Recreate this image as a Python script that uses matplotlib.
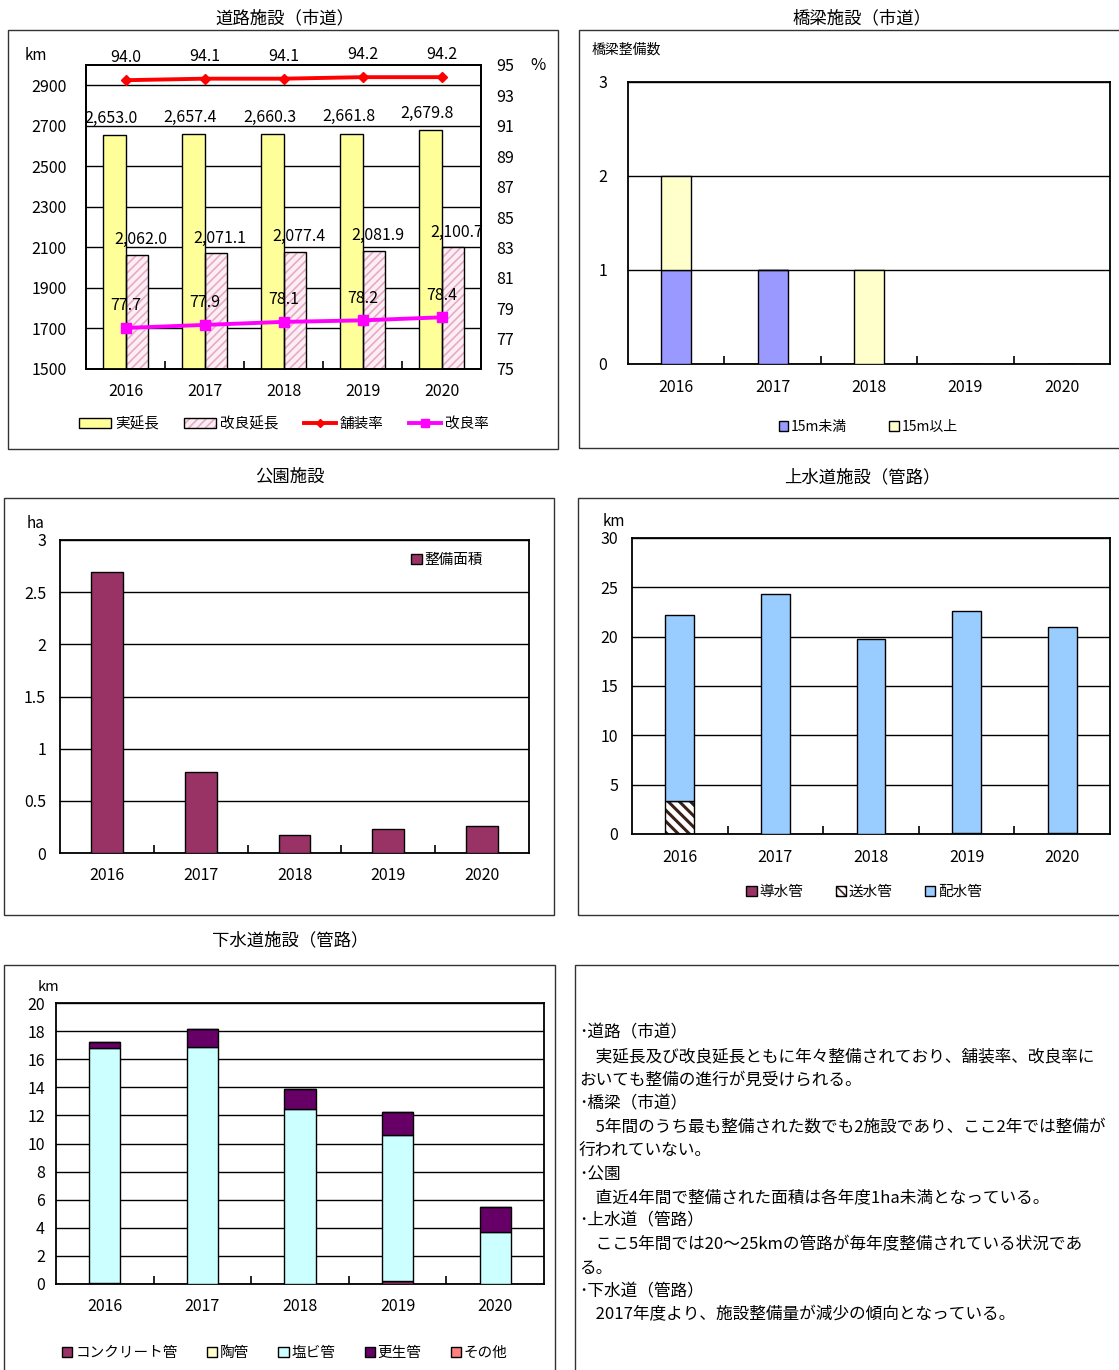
import numpy as np
import matplotlib
matplotlib.use("Agg")
import matplotlib.pyplot as plt
from matplotlib.patches import Rectangle, Patch
from matplotlib.lines import Line2D
from matplotlib.legend_handler import HandlerTuple

plt.rcParams['font.family'] = ['Noto Sans CJK JP', 'DejaVu Sans']
plt.rcParams['hatch.linewidth'] = 1.2

# ---------------- data ----------------
years = ['2016', '2017', '2018', '2019', '2020']

road_length = [2653.0, 2657.4, 2660.3, 2661.8, 2679.8]      # 実延長 km
road_improved = [2062.0, 2071.1, 2077.4, 2081.9, 2100.7]    # 改良延長 km
paved_rate = [94.0, 94.1, 94.1, 94.2, 94.2]                 # 舗装率 %
improved_rate = [77.7, 77.9, 78.1, 78.2, 78.4]              # 改良率 %
road_left_ticks = [1500, 1700, 1900, 2100, 2300, 2500, 2700, 2900]
road_right_ticks = [75, 77, 79, 81, 83, 85, 87, 89, 91, 93, 95]

bridge_under15 = [1, 1, 0, 0, 0]   # 15m未満
bridge_over15 = [1, 0, 1, 0, 0]    # 15m以上

park_area = [2.69, 0.78, 0.17, 0.23, 0.26]   # 整備面積 ha
park_ticks = [0, 0.5, 1, 1.5, 2, 2.5, 3]
park_ticklabels = ['0', '0.5', '1', '1.5', '2', '2.5', '3']

water_intake = [0, 0, 0, 0.1, 0.1]            # 導水管
water_transmission = [3.35, 0, 0, 0, 0]       # 送水管
water_distribution = [18.85, 24.35, 19.78, 22.5, 20.83]  # 配水管

sewer_concrete = [0.08, 0, 0, 0.2, 0]         # コンクリート管
sewer_clay = [0, 0, 0, 0, 0]                  # 陶管
sewer_pvc = [16.74, 16.84, 12.43, 10.42, 3.71]  # 塩ビ管
sewer_rehab = [0.43, 1.33, 1.42, 1.65, 1.76]  # 更生管
sewer_other = [0, 0, 0, 0, 0]                 # その他

summary_lines = [
    '･道路（市道）',
    '\u3000実延長及び改良延長ともに年々整備されており、舗装率、改良率に',
    'おいても整備の進行が見受けられる。',
    '･橋梁（市道）',
    '\u30005年間のうち最も整備された数でも2施設であり、ここ2年では整備が',
    '行われていない。',
    '･公園',
    '\u3000直近4年間で整備された面積は各年度1ha未満となっている。',
    '･上水道（管路）',
    '\u3000ここ5年間では20～25kmの管路が毎年度整備されている状況であ',
    'る。',
    '･下水道（管路）',
    '\u30002017年度より、施設整備量が減少の傾向となっている。',
]

# ---------------- layout helpers ----------------
W, H = 1119, 1370
fig = plt.figure(figsize=(W / 100, H / 100), dpi=100)
fig.patch.set_facecolor('white')


def ax_px(x0, y0, x1, y1):
    return fig.add_axes([x0 / W, 1 - y1 / H, (x1 - x0) / W, (y1 - y0) / H])


def fx(x):
    return x / W


def fy(y):
    return 1 - y / H


def frame(x0, y0, x1, y1):
    fig.add_artist(Rectangle((fx(x0), fy(y1)), (x1 - x0) / W, (y1 - y0) / H,
                             transform=fig.transFigure, fill=False,
                             edgecolor='#333333', lw=1.0, zorder=0))


TICK_FS = 11.5
LEG_FS = 10.5


def style_axis(ax, ypad=8, xpad=8):
    for s in ax.spines.values():
        s.set_color('black')
        s.set_linewidth(1.3)
    ax.set_xlim(-0.5, 4.5)
    ax.set_xticks(np.arange(5))
    ax.set_xticklabels(years, fontsize=TICK_FS)
    ax.set_xticks([0.5, 1.5, 2.5, 3.5], minor=True)
    ax.tick_params(axis='x', which='major', length=0, pad=xpad)
    ax.tick_params(axis='x', which='minor', direction='in', length=6, width=1.2)
    ax.tick_params(axis='y', length=0, labelsize=TICK_FS, pad=ypad)
    ax.yaxis.grid(True, color='black', lw=1.0)
    ax.set_axisbelow(True)


def hatched_bar(ax, x, h, bottom, width, face, hatch_color, hatch):
    ax.bar(x, h, width, bottom=bottom, color=face, edgecolor=hatch_color,
           hatch=hatch, lw=0, zorder=2)
    ax.bar(x, h, width, bottom=bottom, fill=False, edgecolor='black',
           lw=1.0, zorder=3)


x = np.arange(len(years))

# ================= 道路施設 =================
frame(8, 30, 558, 449)
fig.text(fx(285), fy(18), '道路施設（市道）', ha='center', va='center', fontsize=12.5)
ax = ax_px(86, 65, 481, 369)
style_axis(ax, ypad=14, xpad=10)
ax.set_ylim(1500, 3000)
ax.set_yticks(road_left_ticks)
bw = 0.286
ax.bar(x - bw / 2, road_length, bw, color='#FFFF99', edgecolor='black', lw=1.0, zorder=3)
hatched_bar(ax, x + bw / 2, road_improved, 0, bw, '#FDEEF4', '#E6A9C6', '////')
for xi, v in zip(x, road_length):
    ax.annotate(f'{v:,.1f}', (xi - bw / 2, v), xytext=(-2, 12), textcoords='offset points',
                ha='center', va='center', fontsize=TICK_FS, zorder=5)
for xi, v in zip(x, road_improved):
    ax.annotate(f'{v:,.1f}', (xi + bw / 2, v), xytext=(3, 11), textcoords='offset points',
                ha='center', va='center', fontsize=TICK_FS, zorder=5)
ax2 = ax.twinx()
ax2.set_ylim(75, 95)
ax2.set_yticks(road_right_ticks)
ax2.tick_params(axis='y', length=0, labelsize=TICK_FS, pad=11)
for s in ax2.spines.values():
    s.set_linewidth(1.3)
ax2.plot(x, paved_rate, color='#FF0000', lw=2.8, marker='D', markersize=5, zorder=4)
ax2.plot(x, improved_rate, color='#FF00FF', lw=2.8, marker='s', markersize=7, zorder=4)
for xi, v in zip(x, paved_rate):
    ax2.annotate(f'{v:.1f}', (xi, v), xytext=(0, 16), textcoords='offset points',
                 ha='center', va='center', fontsize=TICK_FS)
for xi, v in zip(x, improved_rate):
    ax2.annotate(f'{v:.1f}', (xi, v), xytext=(0, 16), textcoords='offset points',
                 ha='center', va='center', fontsize=TICK_FS)
fig.text(fx(36), fy(56), 'km', ha='center', va='center', fontsize=11)
fig.text(fx(538), fy(66), '%', ha='center', va='center', fontsize=12)
h_real = Patch(facecolor='#FFFF99', edgecolor='black', lw=1.0)
h_imp = (Patch(facecolor='#FDEEF4', edgecolor='#E6A9C6', hatch='////', lw=0),
         Patch(fill=False, edgecolor='black', lw=1.0))
h_pav = Line2D([], [], color='#FF0000', lw=2.8, marker='D', markersize=4)
h_irt = Line2D([], [], color='#FF00FF', lw=2.8, marker='s', markersize=6)
fig.legend([h_real, h_imp, h_pav, h_irt], ['実延長', '改良延長', '舗装率', '改良率'],
           handler_map={tuple: HandlerTuple(ndivide=1)},
           loc='center', bbox_to_anchor=(fx(284), fy(424)), ncol=4, frameon=False,
           fontsize=LEG_FS, handlelength=2.2, handleheight=0.7, handletextpad=0.3,
           columnspacing=1.7)

# ================= 橋梁施設 =================
frame(579, 30, 1130, 448)
fig.text(fx(862), fy(18), '橋梁施設（市道）', ha='center', va='center', fontsize=12.5)
ax = ax_px(628, 82, 1110, 364)
style_axis(ax, ypad=15, xpad=11)
ax.set_ylim(0, 3)
ax.set_yticks([0, 1, 2, 3])
bw = 0.31
ax.bar(x, bridge_under15, bw, color='#9999FF', edgecolor='black', lw=1.0, zorder=3)
ax.bar(x, bridge_over15, bw, bottom=bridge_under15, color='#FFFFCC', edgecolor='black',
       lw=1.0, zorder=3)
fig.text(fx(592), fy(50), '橋梁整備数', ha='left', va='center', fontsize=10)
fig.legend([Patch(facecolor='#9999FF', edgecolor='black'), Patch(facecolor='#FFFFCC', edgecolor='black')],
           ['15m未満', '15m以上'], loc='center', bbox_to_anchor=(fx(868), fy(427)), ncol=2,
           frameon=False, fontsize=10, handlelength=0.7, handleheight=0.7,
           handletextpad=0.2, columnspacing=3.0)

# ================= 公園施設 =================
frame(4, 498, 554, 915)
fig.text(fx(290), fy(477), '公園施設', ha='center', va='center', fontsize=12.5)
ax = ax_px(60, 540, 529, 853)
style_axis(ax, ypad=10, xpad=10)
ax.set_ylim(0, 3)
ax.set_yticks(park_ticks)
ax.set_yticklabels(park_ticklabels)
bw = 0.34
ax.bar(x, park_area, bw, color='#993366', edgecolor='black', lw=1.0, zorder=3,
       label='整備面積')
ax.legend(loc='upper right', bbox_to_anchor=(0.93, 1.0), frameon=False, fontsize=10.5,
          handlelength=0.7, handleheight=0.7, handletextpad=0.2)
fig.text(fx(36), fy(523), 'ha', ha='center', va='center', fontsize=11)

# ================= 上水道施設 =================
frame(578, 498, 1130, 915)
fig.text(fx(862), fy(477), '上水道施設（管路）', ha='center', va='center', fontsize=12.5)
ax = ax_px(632, 538, 1110, 834)
style_axis(ax, ypad=10, xpad=11)
ax.set_ylim(0, 30)
ax.set_yticks([0, 5, 10, 15, 20, 25, 30])
bw = 0.30
wi = np.array(water_intake)
wt = np.array(water_transmission)
wd = np.array(water_distribution)
ax.bar(x, wi, bw, color='#993366', edgecolor='black', lw=1.0, zorder=3)
with plt.rc_context({'hatch.linewidth': 2.2}):
    hatched_bar(ax, x, wt, wi, bw, 'white', '#3A2018', '\\\\\\')
    h_wt = (Patch(facecolor='white', edgecolor='#3A2018', hatch='\\\\\\\\', lw=0),
            Patch(fill=False, edgecolor='black'))
ax.bar(x, wd, bw, bottom=wi + wt, color='#99CCFF', edgecolor='black', lw=1.0, zorder=3)
fig.text(fx(614), fy(521), 'km', ha='center', va='center', fontsize=11)
fig.legend([Patch(facecolor='#993366', edgecolor='black'), h_wt,
            Patch(facecolor='#99CCFF', edgecolor='black')],
           ['導水管', '送水管', '配水管'], handler_map={tuple: HandlerTuple(ndivide=1)},
           loc='center', bbox_to_anchor=(fx(864), fy(892)), ncol=3, frameon=False,
           fontsize=10.5, handlelength=0.7, handleheight=0.7, handletextpad=0.2,
           columnspacing=2.2)

# ================= 下水道施設 =================
frame(4, 965, 555, 1380)
fig.text(fx(290), fy(940), '下水道施設（管路）', ha='center', va='center', fontsize=12.5)
ax = ax_px(56, 1003, 544, 1284)
style_axis(ax, ypad=8, xpad=10)
ax.set_ylim(0, 20)
ax.set_yticks(np.arange(0, 21, 2))
bw = 0.32
series = [(sewer_concrete, '#993366', 'コンクリート管'),
          (sewer_clay, '#FFFFCC', '陶管'),
          (sewer_pvc, '#CCFFFF', '塩ビ管'),
          (sewer_rehab, '#660066', '更生管'),
          (sewer_other, '#FF8080', 'その他')]
bottom = np.zeros(5)
handles = []
for vals, col, lab in series:
    v = np.array(vals, dtype=float)
    ax.bar(x, v, bw, bottom=bottom, color=col, edgecolor='black', lw=1.0, zorder=3)
    bottom += v
    handles.append(Patch(facecolor=col, edgecolor='black'))
fig.text(fx(48), fy(987), 'km', ha='center', va='center', fontsize=10.5)
fig.legend(handles, [s[2] for s in series], loc='center', bbox_to_anchor=(fx(285), fy(1353)),
           ncol=5, frameon=False, fontsize=10.5, handlelength=0.7, handleheight=0.7,
           handletextpad=0.2, columnspacing=2.0)

# ================= summary text =================
frame(575, 965, 1130, 1380)
y0 = 1033
for i, line in enumerate(summary_lines):
    fig.text(fx(579), fy(y0 + i * 23.5), line, ha='left', va='center', fontsize=12.0)

fig.savefig('out.png', dpi=100, facecolor='white')
